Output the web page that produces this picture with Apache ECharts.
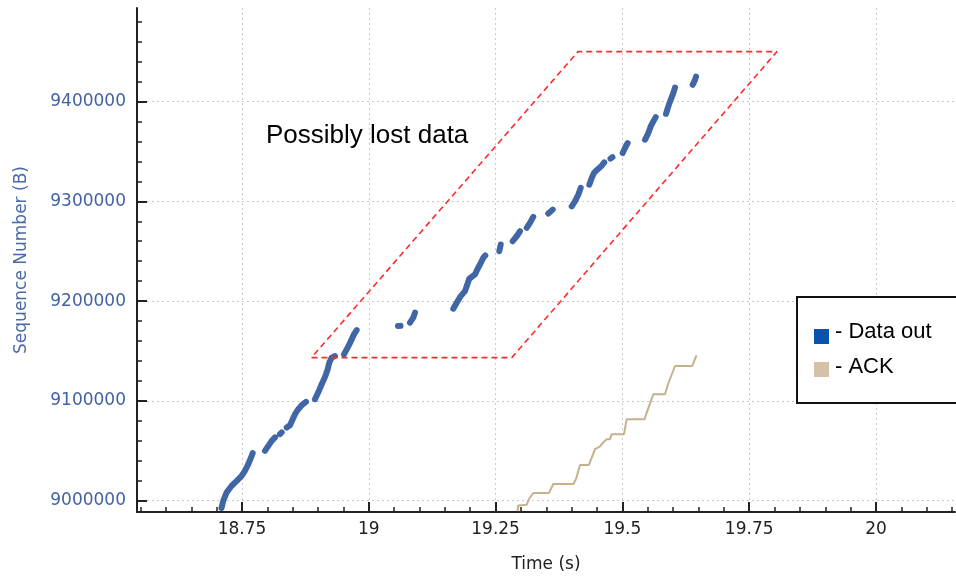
<!DOCTYPE html>
<html><head><meta charset="utf-8">
<script src="https://cdn.jsdelivr.net/npm/echarts@6/dist/echarts.min.js"></script>
<style>html,body{margin:0;padding:0;background:#fff}#c{width:956px;height:578px}</style>
</head><body><div id="c"></div>
<script>
// Data out (blue) – segments separated by null
const dataOutTime = [
 18.7096,18.7131,18.7198,18.7297,18.7396,18.7494,18.7559,18.7624,18.7691,18.7711,null,
 18.7953,18.8019,18.8086,18.8151,null,
 18.8249,18.8283,null,
 18.8381,18.8446,18.8500,18.8545,18.8610,18.8677,18.8762,null,
 18.8939,18.8985,18.9024,18.9071,18.9117,18.9156,18.9190,18.9221,18.9269,18.9334,null,
 18.9511,18.9564,18.9616,18.9663,18.9708,18.9761,null,
 19.0576,19.0625,null,
 19.0812,19.0877,19.0911,null,
 19.1666,19.1733,19.1812,19.1897,19.1942,19.1981,19.2094,19.2139,19.2192,19.2257,19.2297,null,
 19.2573,19.2601,null,
 19.2837,19.2916,19.2981,null,
 19.3113,19.3178,19.3243,null,
 19.3539,19.3626,null,
 19.4000,19.4065,19.4131,19.4178,null,
 19.4348,19.4395,19.4440,19.4505,19.4592,19.4643,null,
 19.4765,19.4805,null,
 19.5006,19.5051,19.5104,null,
 19.5446,19.5511,19.5558,19.5609,19.5657,null,
 19.5860,19.5905,19.5952,19.6004,19.6037,null,
 19.6386,19.6432,19.6451
];
const dataOutSeq = [
 8992700,9000000,9008400,9015000,9020000,9025000,9030000,9036700,9045000,9047700,null,
 9050000,9055000,9060000,9063400,null,
 9066700,9068400,null,
 9073400,9075700,9081700,9086700,9091700,9095700,9099000,null,
 9101700,9106700,9111000,9116700,9121700,9126700,9131700,9138400,9143400,9145000,null,
 9146700,9151700,9156700,9161700,9166700,9171000,null,
 9175000,9175200,null,
 9178400,9183400,9188400,null,
 9192400,9198400,9205000,9210000,9216700,9222400,9226700,9231700,9236700,9243400,9245700,null,
 9250000,9256700,null,
 9260000,9265000,9270000,null,
 9273400,9278400,9284400,null,
 9287700,9291700,null,
 9295000,9300000,9306700,9313400,null,
 9316700,9323400,9328400,9331700,9335700,9339000,null,
 9342700,9344200,null,
 9348400,9353400,9358400,null,
 9361700,9368400,9375000,9380000,9384400,null,
 9387700,9395000,9401700,9408400,9414000,null,
 9416700,9421700,9425000
];
// ACK (tan step line)
const ackTime = [19.2932,19.2948,19.3113,19.3159,19.3244,19.3553,19.3638,19.4036,19.4086,19.4164,19.4338,19.4460,19.4559,19.4624,19.4691,19.4756,19.4789,19.5032,19.5085,19.5436,19.5505,19.5609,19.5840,19.5899,19.6037,19.6378,19.6461];
const ackSeq  = [8989500,8995200,8996000,9001700,9007700,9007700,9016700,9016700,9021700,9035700,9035700,9051700,9054400,9058400,9061700,9061700,9066700,9066700,9081700,9081700,9091700,9106700,9106700,9116700,9135000,9135000,9145700];
// "Possibly lost data" region (parallelogram)
const regionTime = [18.887, 19.282, 19.8048, 19.4125, 18.887];
const regionSeq  = [9143400, 9143400, 9450000, 9450000, 9143400];
// tick positions
const xTickValues = [18.75, 19, 19.25, 19.5, 19.75, 20];
const xMinorTickValues = [18.55,18.6,18.65,18.7, 18.8,18.85,18.9,18.95, 19.05,19.1,19.15,19.2, 19.3,19.35,19.4,19.45,
  19.55,19.6,19.65,19.7, 19.8,19.85,19.9,19.95, 20.05,20.1,20.15];
const yTickValues = [9000000, 9100000, 9200000, 9300000, 9400000];
const yMinorTickValues = [9020000,9040000,9060000,9080000, 9120000,9140000,9160000,9180000, 9220000,9240000,9260000,9280000,
  9320000,9340000,9360000,9380000, 9420000,9440000,9460000,9480000];
const legendNames = ['- Data out', '- ACK'];
const annotationText = 'Possibly lost data';

const pairs = (a, b) => a.map((t, i) => t === null ? ['-', '-'] : [t, b[i]]);

const X_MIN = 18.5430, X_MAX = 20.1558, Y_MIN = 8988700, Y_MAX = 9493700;
const axisColor = '#222';
const gridLine = {show: true, lineStyle: {color: '#c8c8c8', width: 1, type: [2, 3]}};

const chart = echarts.init(document.getElementById('c'));
chart.setOption({
  animation: false,
  backgroundColor: '#fff',
  grid: {left: 137, right: 1, top: 8, bottom: 65},
  xAxis: [{
    type: 'value', min: X_MIN, max: X_MAX, position: 'bottom',
    name: 'Time (s)', nameLocation: 'middle', nameGap: 44,
    nameTextStyle: {color: '#222', fontSize: 17, fontFamily: 'DejaVu Sans'},
    axisLine: {show: true, onZero: false, lineStyle: {color: axisColor, width: 2}},
    axisTick: {show: true, inside: true, length: 10, customValues: xTickValues, lineStyle: {color: axisColor, width: 2}},
    axisLabel: {margin: 9, color: '#222', fontSize: 17, fontFamily: 'DejaVu Sans', customValues: xTickValues,
      formatter: v => String(+(+v).toFixed(2))},
    splitLine: gridLine
  }, {
    type: 'value', min: X_MIN, max: X_MAX, position: 'bottom',
    axisLine: {show: false, onZero: false},
    axisTick: {show: true, inside: true, length: 5, customValues: xMinorTickValues, lineStyle: {color: axisColor, width: 1.5}},
    axisLabel: {show: false}, splitLine: {show: false}
  }],
  yAxis: [{
    type: 'value', min: Y_MIN, max: Y_MAX, position: 'left',
    name: 'Sequence Number (B)', nameLocation: 'middle', nameGap: 107,
    nameTextStyle: {color: '#4a6aaa', fontSize: 17, fontFamily: 'DejaVu Sans'},
    axisLine: {show: true, onZero: false, lineStyle: {color: axisColor, width: 2}},
    axisTick: {show: true, inside: true, length: 10, customValues: yTickValues, lineStyle: {color: axisColor, width: 2}},
    axisLabel: {margin: 11, color: '#4262a4', fontSize: 17, fontFamily: 'DejaVu Sans', customValues: yTickValues,
      formatter: v => String(Math.round(v))},
    splitLine: gridLine
  }, {
    type: 'value', min: Y_MIN, max: Y_MAX, position: 'left',
    axisLine: {show: false, onZero: false},
    axisTick: {show: true, inside: true, length: 5, customValues: yMinorTickValues, lineStyle: {color: axisColor, width: 1.5}},
    axisLabel: {show: false}, splitLine: {show: false}
  }],
  series: [
    {type: 'line', name: 'ACK', data: pairs(ackTime, ackSeq), showSymbol: false, clip: true,
     lineStyle: {color: '#c5b28c', width: 2}, z: 2},
    {type: 'line', name: 'Data out', data: pairs(dataOutTime, dataOutSeq), showSymbol: false, connectNulls: false, clip: true,
     lineStyle: {color: '#4066a5', width: 6, cap: 'round', join: 'round'}, z: 3},
    {type: 'line', name: 'region', data: pairs(regionTime, regionSeq), showSymbol: false, silent: true,
     lineStyle: {color: '#ff2a2a', width: 1.6, type: [6, 4]}, z: 4}
  ],
  graphic: [
    {type: 'text', x: 266, y: 136, style: {text: annotationText, fill: '#000', font: '26px "Liberation Sans", Arial, sans-serif', align: 'left', verticalAlign: 'middle'}, z: 10},
    {type: 'rect', shape: {x: 797, y: 297, width: 200, height: 106}, style: {fill: '#fff', stroke: '#111', lineWidth: 2}, z: 10},
    {type: 'rect', shape: {x: 814, y: 329, width: 15, height: 15}, style: {fill: '#0a53ac'}, z: 11},
    {type: 'text', x: 835, y: 332, style: {text: legendNames[0], fill: '#000', font: '22px "Liberation Sans", Arial, sans-serif', align: 'left', verticalAlign: 'middle'}, z: 11},
    {type: 'rect', shape: {x: 814, y: 362, width: 15, height: 15}, style: {fill: '#d5c1a8'}, z: 11},
    {type: 'text', x: 835, y: 367, style: {text: legendNames[1], fill: '#000', font: '22px "Liberation Sans", Arial, sans-serif', align: 'left', verticalAlign: 'middle'}, z: 11}
  ]
});
</script>
</body></html>
